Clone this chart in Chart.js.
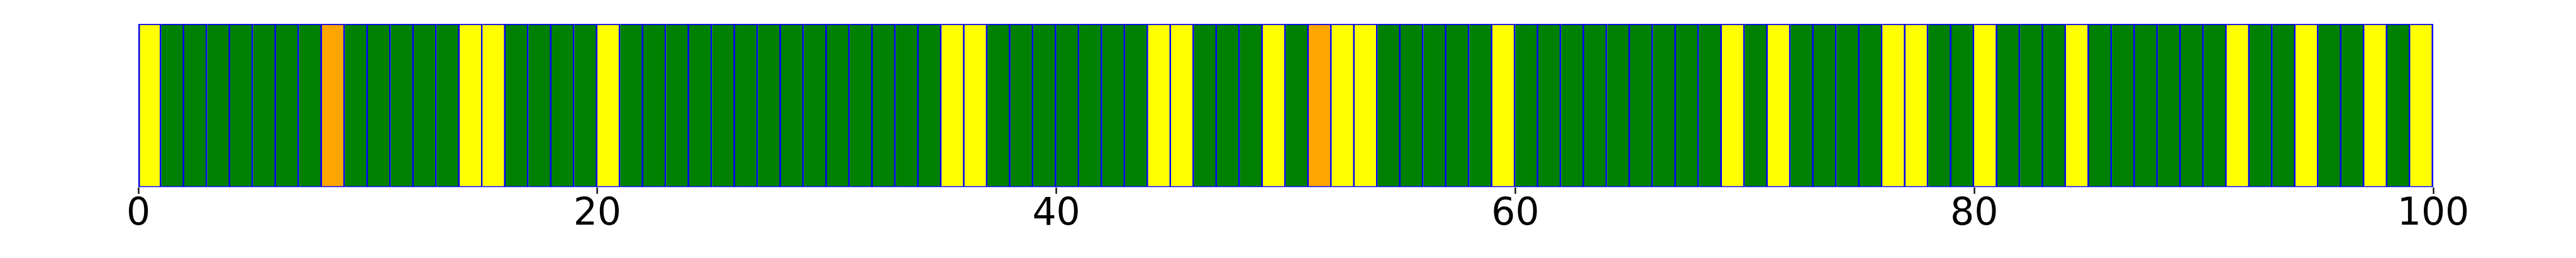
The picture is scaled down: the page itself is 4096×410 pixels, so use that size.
<!DOCTYPE html>
<html>
<head>
<meta charset="utf-8">
<script src="https://cdn.jsdelivr.net/npm/chart.js@4/dist/chart.umd.min.js"></script>
<style>
  html, body { margin: 0; padding: 0; background: #fff; }
  canvas { display: block; }
</style>
</head>
<body>
<canvas id="myChart" width="4096" height="410"></canvas>
<script>
// status of each of the 100 slots: 0 = ok, 1 = warning, 2 = alert
const slotStatus = [
    1, 0, 0, 0, 0, 0, 0, 0, 2, 0,
    0, 0, 0, 0, 1, 1, 0, 0, 0, 0,
    1, 0, 0, 0, 0, 0, 0, 0, 0, 0,
    0, 0, 0, 0, 0, 1, 1, 0, 0, 0,
    0, 0, 0, 0, 1, 1, 0, 0, 0, 1,
    0, 2, 1, 1, 0, 0, 0, 0, 0, 1,
    0, 0, 0, 0, 0, 0, 0, 0, 0, 1,
    0, 1, 0, 0, 0, 0, 1, 1, 0, 0,
    1, 0, 0, 0, 1, 0, 0, 0, 0, 0,
    0, 1, 0, 0, 1, 0, 0, 1, 0, 1
];
const slotStart = slotStatus.map((s, i) => i); // each slot covers [i, i + 1]
const slotHeight = 1;
const xTicks = [0, 20, 40, 60, 80, 100];

const statusColors = ['#008000', '#ffff00', '#ffa500'];
const edge = 2.8;

const ctx = document.getElementById('myChart').getContext('2d');

new Chart(ctx, {
    type: 'bar',
    data: {
        datasets: [{
            data: slotStart.map(x => ({ x: x + 0.5, y: slotHeight })),
            backgroundColor: slotStatus.map(s => statusColors[s]),
            borderColor: '#0000ff',
            borderWidth: (c) => ({ top: 2, bottom: 2, right: edge, left: c.dataIndex === 0 ? edge : 0 }),
            borderSkipped: false,
            barPercentage: 1,
            categoryPercentage: 1
        }]
    },
    options: {
        responsive: false,
        animation: false,
        devicePixelRatio: 1,
        layout: {
            padding: { left: 220, right: 227, top: 38, bottom: 36 }
        },
        plugins: {
            legend: { display: false },
            tooltip: { enabled: false }
        },
        scales: {
            x: {
                type: 'linear',
                min: 0,
                max: 100,
                offset: false,
                afterBuildTicks: (axis) => {
                    axis.ticks = xTicks.map(v => ({ value: v }));
                },
                grid: {
                    offset: false,
                    drawOnChartArea: false,
                    drawTicks: true,
                    tickLength: 10.5,
                    tickWidth: 2.3,
                    tickColor: '#000'
                },
                border: { display: false },
                ticks: {
                    padding: 3,
                    color: '#000',
                    maxRotation: 0,
                    autoSkip: false,
                    font: { family: 'DejaVu Sans', size: 60, lineHeight: 1 }
                }
            },
            y: {
                display: false,
                min: 0,
                max: 1
            }
        }
    }
});
</script>
</body>
</html>
